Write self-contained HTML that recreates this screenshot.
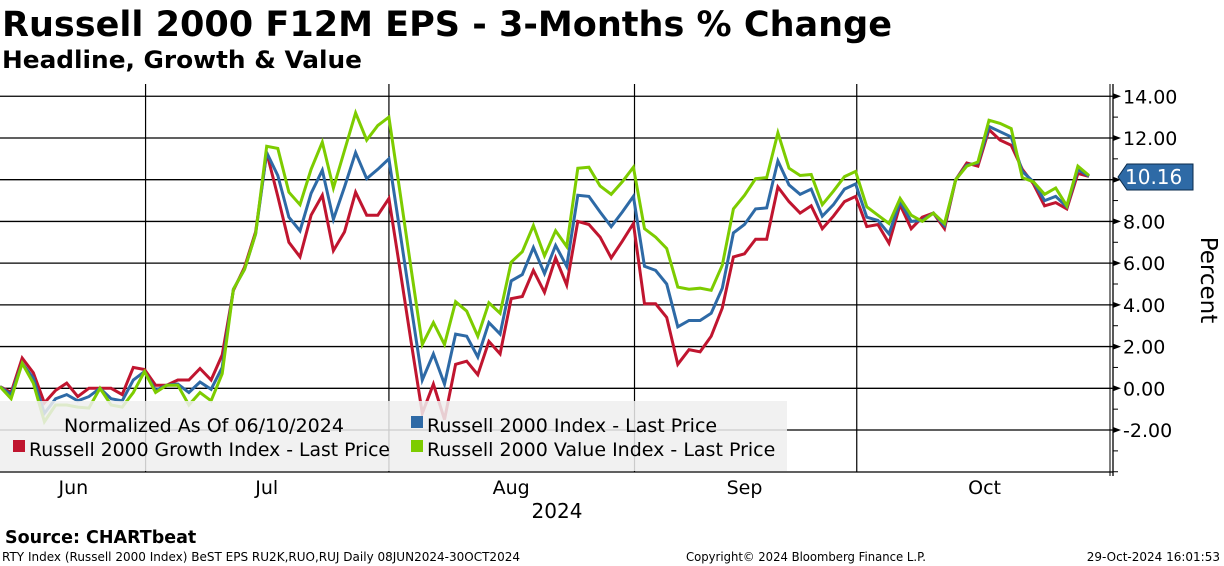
<!DOCTYPE html>
<html><head><meta charset="utf-8"><style>
body{margin:0;background:#fff;width:1224px;height:566px;overflow:hidden;font-family:"Liberation Sans","DejaVu Sans",sans-serif;}
svg{display:block}
</style></head><body>
<svg id="chart" width="1224" height="566" xmlns="http://www.w3.org/2000/svg">
<text x="2" y="36" font-size="35" font-weight="bold" font-family="DejaVu Sans, sans-serif" textLength="890" lengthAdjust="spacingAndGlyphs">Russell 2000 F12M EPS - 3-Months % Change</text>
<text x="2" y="68" font-size="24" font-weight="bold" font-family="DejaVu Sans, sans-serif" textLength="360" lengthAdjust="spacingAndGlyphs">Headline, Growth &amp; Value</text>
<g id="grid"></g>
<g id="series"></g>
<g id="legend">
<rect x="0" y="401" width="787" height="70" fill="#eeeeee" fill-opacity="0.85"/>
<text x="64" y="432" font-size="19" font-family="DejaVu Sans, sans-serif">Normalized As Of 06/10/2024</text>
<rect x="411" y="416" width="12" height="12" fill="#2e6aa6"/>
<text x="427" y="432" font-size="19" font-family="DejaVu Sans, sans-serif">Russell 2000 Index - Last Price</text>
<rect x="13" y="440" width="12" height="12" fill="#c0152f"/>
<text x="29" y="456" font-size="19" font-family="DejaVu Sans, sans-serif" textLength="361" lengthAdjust="spacingAndGlyphs">Russell 2000 Growth Index - Last Price</text>
<rect x="411" y="440" width="12" height="12" fill="#7dcc00"/>
<text x="427" y="456" font-size="19" font-family="DejaVu Sans, sans-serif">Russell 2000 Value Index - Last Price</text>
</g>
<g id="axis"></g>
<text transform="translate(1201,280) rotate(90)" text-anchor="middle" font-size="23" font-family="DejaVu Sans, sans-serif">Percent</text>
<g>
<path d="M1118,177 L1127,164 L1193,164 L1193,190 L1127,190 Z" fill="#2e6aa6" stroke="#0a2a4a" stroke-width="1"/>
<text x="1125" y="184" font-size="20" fill="#fff" font-family="DejaVu Sans, sans-serif">10.16</text>
</g>
<g id="xlabels"></g>
<text x="557" y="518" text-anchor="middle" font-size="20" font-family="DejaVu Sans, sans-serif">2024</text>
<text x="5" y="543" font-size="17.5" font-weight="bold" font-family="DejaVu Sans, sans-serif">Source: CHARTbeat</text>
<text x="2" y="561" font-size="12" font-family="DejaVu Sans, sans-serif" textLength="518" lengthAdjust="spacingAndGlyphs">RTY Index (Russell 2000 Index) BeST EPS RU2K,RUO,RUJ  Daily 08JUN2024-30OCT2024</text>
<text x="686" y="561" font-size="12" font-family="DejaVu Sans, sans-serif" textLength="240" lengthAdjust="spacingAndGlyphs">Copyright© 2024 Bloomberg Finance L.P.</text>
<text x="1220" y="561" text-anchor="end" font-size="12" font-family="DejaVu Sans, sans-serif">29-Oct-2024 16:01:53</text>
</svg>
<script>
const growth=[0.08,-0.2,1.45,0.75,-0.7,-0.1,0.25,-0.4,0,0,0,-0.3,1.0,0.9,0.15,0.15,0.4,0.4,0.95,0.4,1.6,4.7,5.8,7.5,11.3,9.2,7.0,6.3,8.3,9.25,6.6,7.5,9.4,8.3,8.3,9.1,
5.7,2.2,-1.2,0.2,-1.5,1.15,1.3,0.65,2.25,1.65,4.3,4.4,5.65,4.6,6.25,4.95,8.0,7.85,7.25,6.25,7.05,7.9,4.05,4.05,3.4,1.15,1.85,1.75,2.5,3.85,6.3,6.45,7.15,7.15,9.65,8.95,8.4,8.75,
7.65,8.25,8.95,9.2,7.75,7.85,6.95,8.8,7.65,8.2,8.4,7.65,10.0,10.8,10.65,12.4,11.9,11.65,10.5,9.8,8.75,8.9,8.6,10.3,10.16];
const index=[0.08,-0.3,1.2,0.5,-1.2,-0.5,-0.3,-0.6,-0.4,0,-0.5,-0.6,0.4,0.8,-0.1,0.15,0.2,-0.2,0.3,-0.05,1.0,4.75,5.7,7.4,11.3,10.2,8.2,7.55,9.35,10.45,8.1,9.65,11.3,10.05,10.5,11.0,
7.5,3.9,0.4,1.65,0.2,2.6,2.5,1.5,3.15,2.6,5.15,5.45,6.75,5.5,6.85,5.85,9.25,9.2,8.45,7.75,8.45,9.2,5.85,5.65,5.0,2.95,3.25,3.25,3.6,4.8,7.45,7.85,8.6,8.65,10.9,9.75,9.3,9.55,
8.25,8.8,9.55,9.8,8.2,8.05,7.4,8.95,8.0,8.05,8.4,7.8,10.0,10.7,10.8,12.55,12.3,12.05,10.4,9.9,9.0,9.2,8.7,10.5,10.16];
const value=[0.08,-0.5,1.2,0.25,-1.6,-0.8,-0.8,-0.9,-0.95,0,-0.8,-0.9,-0.2,0.8,-0.2,0.15,0.15,-0.8,-0.2,-0.6,0.7,4.75,5.7,7.4,11.6,11.5,9.4,8.8,10.5,11.8,9.6,11.4,13.2,11.9,12.6,13.0,
9.4,5.7,2.1,3.15,2.1,4.15,3.7,2.5,4.1,3.6,6.05,6.55,7.8,6.35,7.55,6.8,10.55,10.6,9.7,9.3,9.9,10.6,7.65,7.25,6.7,4.85,4.75,4.8,4.7,5.9,8.6,9.25,10.05,10.1,12.25,10.55,10.2,10.25,
8.8,9.45,10.15,10.4,8.7,8.3,7.9,9.1,8.3,8.0,8.4,7.9,10.0,10.65,10.85,12.85,12.7,12.45,10.1,9.9,9.3,9.6,8.75,10.65,10.2];
const yTicks=[14,12,10,8,6,4,2,0,-2];
const yTickLabels=["14.00","12.00","10.00","8.00","6.00","4.00","2.00","0.00","-2.00"];
const months=["Jun","Jul","Aug","Sep","Oct"];
const monthLabelIdx=[6.6,24,46,67,88.6];
const monthBoundIdx=[13.1,35,57.1,77.1];

const NS="http://www.w3.org/2000/svg";
const X=i=>i*(1089/98);
const Y=v=>388.3-v*20.86;
function mk(tag,attrs,parent){const e=document.createElementNS(NS,tag);for(const k in attrs)e.setAttribute(k,attrs[k]);parent.appendChild(e);return e;}
const gridG=document.getElementById('grid'),axisG=document.getElementById('axis'),xlG=document.getElementById('xlabels'),serG=document.getElementById('series');
yTicks.forEach((t,k)=>{
  const l=mk('line',{x1:0,x2:1113,y1:Y(t),y2:Y(t),stroke:'#000','stroke-width':1.3},gridG);
  
  
  const p=mk('path',{d:`M1113,${Y(t)-3} L1121,${Y(t)} L1113,${Y(t)+3} Z`,fill:'#000'},axisG);
  
  
  const tx=mk('text',{x:1123,y:Y(t)+7,'font-size':19,'font-family':'DejaVu Sans, sans-serif'},axisG);
  tx.textContent=yTickLabels[k];
  
  
});
for(let v=-4;v<=14;v++){const m=mk('line',{x1:1113,x2:1118,y1:Y(v),y2:Y(v),stroke:'#000','stroke-width':1},axisG);
  
  }
const baseLine=mk('line',{x1:0,x2:1113,y1:472,y2:472,stroke:'#000','stroke-width':1.3},gridG);


mk('line',{x1:1113,x2:1113,y1:84,y2:476,stroke:'#000','stroke-width':1.3},axisG);
mk('line',{x1:1110,x2:1110,y1:84,y2:476,stroke:'#000','stroke-width':1},axisG);
monthBoundIdx.forEach(b=>{const l=mk('line',{x1:X(b),x2:X(b),y1:84,y2:472,stroke:'#000','stroke-width':1.2},gridG);
  
  });
months.forEach((m,k)=>{const t=mk('text',{x:X(monthLabelIdx[k]),y:494,'text-anchor':'middle','font-size':19,'font-family':'DejaVu Sans, sans-serif'},xlG);
  t.textContent=m;
  
  });
[[growth,'#c0152f','growth-line'],[index,'#2e6aa6','index-line'],[value,'#7dcc00','value-line']].forEach(([d,c,n])=>{
  const p=mk('polyline',{points:d.map((v,i)=>X(i).toFixed(1)+','+Y(v).toFixed(1)).join(' '),fill:'none',stroke:c,'stroke-width':3,'stroke-linejoin':'miter'},serG);
  
  
});
</script>
</body></html>
